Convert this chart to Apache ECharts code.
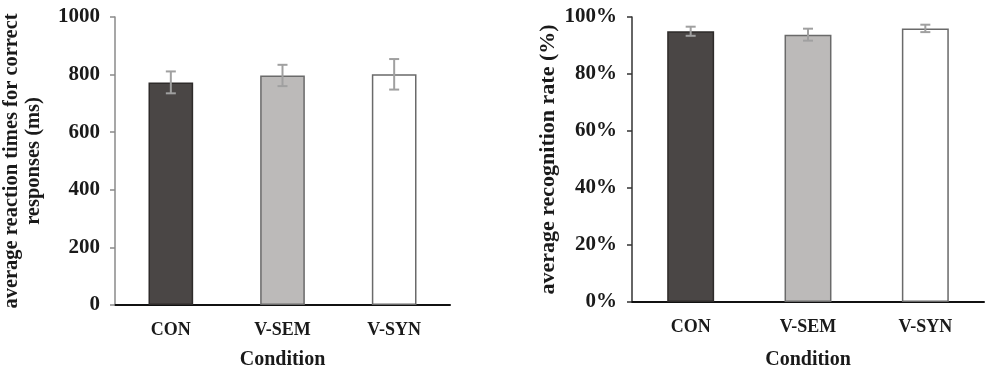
<!DOCTYPE html>
<html>
<head>
<meta charset="utf-8">
<script src="https://cdn.jsdelivr.net/npm/echarts@6/dist/echarts.min.js"></script>
<style>
  html, body { margin: 0; padding: 0; background: #fff; }
  #chart { width: 993px; height: 384px; }
</style>
</head>
<body>
<div id="chart"></div>
<script>
const categories = ['CON', 'V-SEM', 'V-SYN']
const barColors = ['#4a4645', '#bcbab9', '#ffffff']

// left panel: reaction times (ms)
const rtMeans = [773, 797, 801]
const rtErrors = [38, 37, 53]
const rtTicks = [0, 200, 400, 600, 800, 1000]

// right panel: recognition rate (%)
const rateMeans = [95.0, 93.8, 96.0]
const rateErrors = [1.6, 2.1, 1.3]
const rateTicks = [0, 20, 40, 60, 80, 100]

const font = 'Liberation Serif'
const textColor = '#1a1a1a'

const chart = echarts.init(document.getElementById('chart'))

function errorItem(params, api) {
  const x = api.value(0)
  const lo = api.coord([x, api.value(1)])
  const hi = api.coord([x, api.value(2)])
  const cap = 5
  const style = {stroke: '#a0a0a0', lineWidth: 2}
  return {
    type: 'group',
    children: [
      {type: 'line', shape: {x1: lo[0], y1: lo[1], x2: hi[0], y2: hi[1]}, style},
      {type: 'line', shape: {x1: lo[0] - cap, y1: lo[1], x2: lo[0] + cap, y2: lo[1]}, style},
      {type: 'line', shape: {x1: hi[0] - cap, y1: hi[1], x2: hi[0] + cap, y2: hi[1]}, style}
    ]
  }
}

const barData = (vals) => vals.map((v, i) => ({
  value: v,
  itemStyle: {color: barColors[i], borderColor: i === 0 ? '#2e2b2a' : '#6a6a6a', borderWidth: 1.5}
}))
const errData = (means, errs) => means.map((m, i) => [i, m - errs[i], m + errs[i]])

const xAxisBase = (gridIndex, gap) => ({
  type: 'category',
  gridIndex,
  data: categories,
  name: 'Condition',
  nameLocation: 'middle',
  nameGap: gap,
  nameTextStyle: {fontFamily: font, fontWeight: 'bold', fontSize: 20, color: textColor},
  axisLine: {lineStyle: {color: '#111', width: 2}},
  axisTick: {show: false},
  axisLabel: {fontFamily: font, fontWeight: 'bold', fontSize: 18, color: textColor, margin: 16}
})

const yAxisBase = (gridIndex, ticks, axisColor, fmt) => ({
  type: 'value',
  gridIndex,
  min: ticks[0],
  max: ticks[ticks.length - 1],
  interval: ticks[1] - ticks[0],
  nameLocation: 'middle',
  axisLine: {show: true, lineStyle: {color: axisColor, width: 1.5}},
  axisTick: {show: true, length: 5, lineStyle: {color: axisColor, width: 1.5}},
  splitLine: {show: false},
  axisLabel: {fontFamily: font, fontWeight: 'bold', fontSize: 21, color: textColor, margin: 15, formatter: fmt}
})

const option = {
  animation: false,
  backgroundColor: '#fff',
  grid: [
    {left: 113, top: 17, width: 337, bottom: 79},
    {left: 632, top: 17, width: 352, bottom: 82}
  ],
  xAxis: [xAxisBase(0, 45), xAxisBase(1, 48)],
  yAxis: [
    Object.assign(yAxisBase(0, rtTicks, '#8a8a8a', (v) => String(v)), {
      name: 'average reaction times for correct\nresponses (ms)',
      nameGap: 70,
      nameTextStyle: {fontFamily: font, fontWeight: 'bold', fontSize: 20.5, color: textColor, lineHeight: 22}
    }),
    Object.assign(yAxisBase(1, rateTicks, '#333', (v) => v + '%'), {
      name: 'average recognition rate (%)',
      nameGap: 73,
      nameTextStyle: {fontFamily: font, fontWeight: 'bold', fontSize: 22, color: textColor}
    })
  ],
  series: [
    {type: 'bar', xAxisIndex: 0, yAxisIndex: 0, barWidth: '40%', data: barData(rtMeans)},
    {type: 'custom', xAxisIndex: 0, yAxisIndex: 0, renderItem: errorItem, data: errData(rtMeans, rtErrors), z: 5},
    {type: 'bar', xAxisIndex: 1, yAxisIndex: 1, barWidth: '40%', data: barData(rateMeans)},
    {type: 'custom', xAxisIndex: 1, yAxisIndex: 1, renderItem: errorItem, data: errData(rateMeans, rateErrors), z: 5}
  ]
}

chart.setOption(option)
</script>
</body>
</html>
